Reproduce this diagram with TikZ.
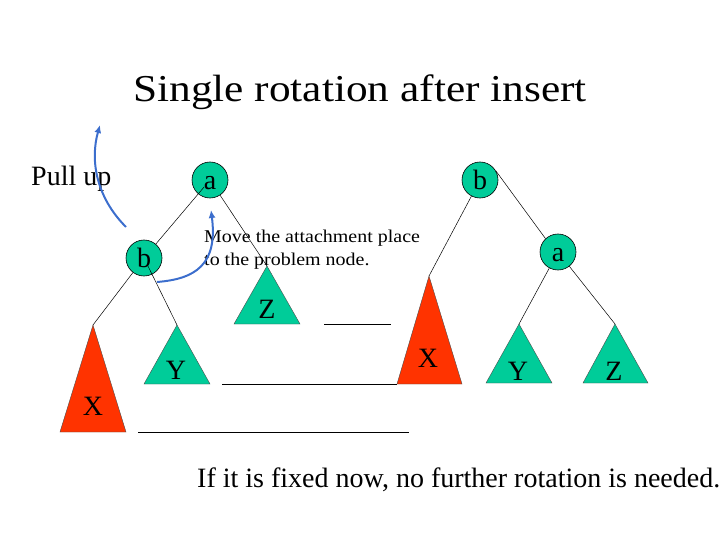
\documentclass[tikz,border=0pt]{standalone}
\usepackage{fontspec}
\usepackage{graphicx}
\setmainfont{Liberation Serif}
\usetikzlibrary{arrows.meta}
\definecolor{tgreen}{RGB}{0,204,153}
\definecolor{tred}{RGB}{255,51,0}
\definecolor{tblue}{RGB}{60,110,205}
\tikzset{
  treenode/.style={circle, draw=black, line width=0.6pt, fill=tgreen, minimum size=36pt, inner sep=0pt,
    text height=19pt, text depth=0pt, font=\fontsize{28}{32}\selectfont},
  edge/.style={draw=black, line width=0.5pt},
  greentri/.style={fill=tgreen, draw=black!70, line width=0.4pt},
  redtri/.style={fill=tred, draw=black!70, line width=0.4pt},
  lab/.style={anchor=base, inner sep=0pt, font=\fontsize{28}{32}\selectfont},
  txt/.style={anchor=base west, inner sep=0pt},
  guide/.style={draw=black, line width=0.9pt},
  bluearrow/.style={draw=tblue, line width=2pt, -{Latex[length=8pt,width=7pt]}}
}
\begin{document}
\begin{tikzpicture}[x=1pt,y=-1pt]
\useasboundingbox (0,0) rectangle (720,540);

% title
\node[anchor=base, inner sep=0pt] (title) at (360,102)
  {\fontsize{38}{44}\selectfont\scalebox{1.14}[1]{Single rotation after insert}};
\node[txt, font=\fontsize{28}{32}\selectfont] (pull) at (31,186) {Pull up};

% triangle apexes
\coordinate (lX) at (93,325);
\coordinate (lY) at (177,325);
\coordinate (lZ) at (267,266);
\coordinate (rX) at (429,276);
\coordinate (rY) at (519,324);
\coordinate (rZ) at (615,324);

% triangles
\filldraw[redtri] (lX) -- ++(-33,107) -- ++(66,0) -- cycle;
\filldraw[greentri] (lY) -- ++(-33,59) -- ++(66,0) -- cycle;
\filldraw[greentri] (lZ) -- ++(-33,58) -- ++(66,0) -- cycle;
\filldraw[redtri] (rX) -- ++(-32,108) -- ++(65,0) -- cycle;
\filldraw[greentri] (rY) -- ++(-33,59) -- ++(66,0) -- cycle;
\filldraw[greentri] (rZ) -- ++(-32,59) -- ++(65,0) -- cycle;

% triangle labels
\node[lab] (lXt) at (93,415) {X};
\node[lab] (lYt) at (176,379) {Y};
\node[lab] (lZt) at (267,318) {Z};
\node[lab] (rXt) at (428,367) {X};
\node[lab] (rYt) at (518,380) {Y};
\node[lab] (rZt) at (614,380) {Z};

% tree nodes
\node[treenode] (la) at (210,180) {a};
\node[treenode] (lb) at (144,258) {b};
\node[treenode] (rb) at (480,180) {b};
\node[treenode] (ra) at (558,252) {a};

% edges
\draw[edge, shorten <=9pt] (la.center) -- (lb);
\draw[edge] (la) -- (lZ);
\draw[edge] (lb) -- (lX);
\draw[edge, shorten <=9pt] (lb.center) -- (lY);
\draw[edge] (rb) -- (rX);
\draw[edge] (rb.30) -- (ra.133);
\draw[edge] (ra) -- (rY);
\draw[edge] (ra) -- (rZ);

% level guide lines
\draw[guide] (324,324) -- (391,324);
\draw[guide] (222,384) -- (397,384);
\draw[guide] (138,432) -- (409,432);

% explanation
\node[txt] (mv1) at (204,243) {\fontsize{18}{22}\selectfont\scalebox{1.11}[1]{Move the attachment place}};
\node[txt] (mv2) at (204,265) {\fontsize{18}{22}\selectfont\scalebox{1.11}[1]{to the problem node.}};

% blue arrows
\coordinate (p1s) at (126,227);
\coordinate (p1e) at (100,125);
\draw[bluearrow] (p1s) .. controls (96,197) and (90,160) .. (p1e);
\coordinate (p2s) at (157,282);
\coordinate (p2e) at (211,210);
\draw[bluearrow] (p2s) .. controls (195,279) and (218,265) .. (p2e);

% bottom text
\node[txt, font=\fontsize{28}{32}\selectfont] (fixed) at (197,487) {If it is fixed now, no further rotation is needed.};
\end{tikzpicture}
\end{document}
